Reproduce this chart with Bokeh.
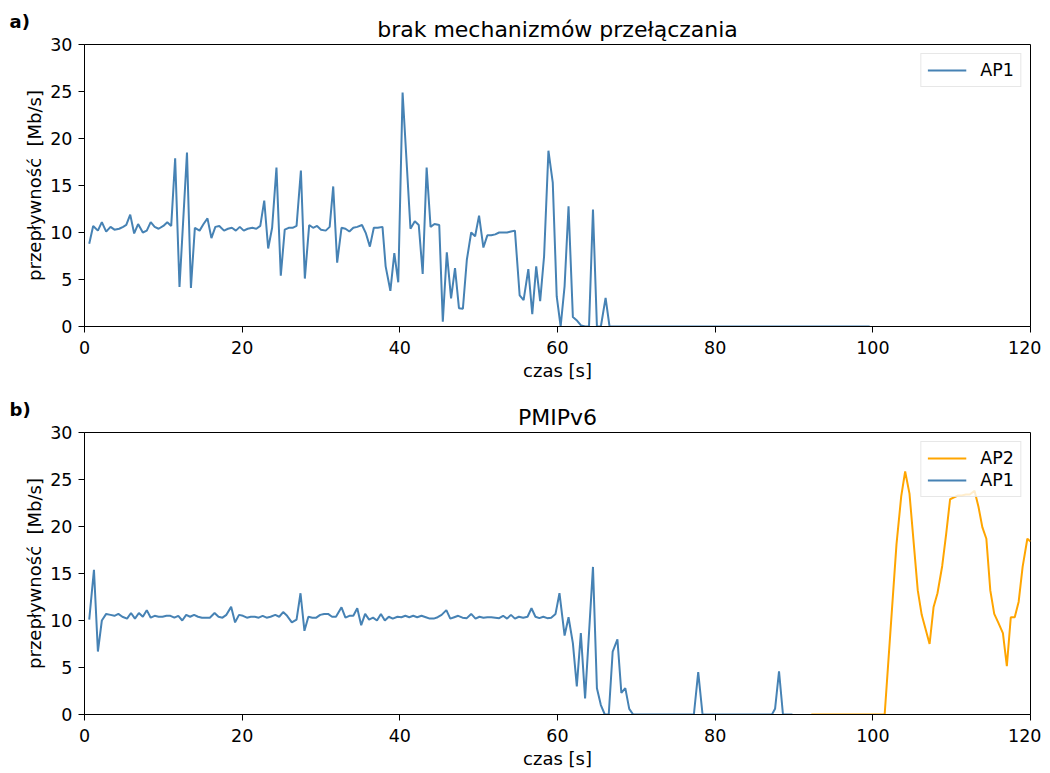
from bokeh.plotting import figure
from bokeh.layouts import column
from bokeh.models import Range1d, Legend, LegendItem, Title
from bokeh.embed import file_html
from bokeh.resources import INLINE

# ---------------- data ----------------
title_a = "brak mechanizmów przełączania"
title_b = "PMIPv6"
x_label = "czas [s]"
y_label = "przepływność\u00a0 [Mb/s]"
x_ticks = [0, 20, 40, 60, 80, 100, 120]
y_ticks = [0, 5, 10, 15, 20, 25, 30]

a_ap1_t = [0.6, 1.1, 1.7, 2.2, 2.75, 3.3, 3.8, 4.4, 4.9, 5.3, 5.8, 6.3, 6.8, 7.4, 7.9, 8.4, 8.9, 9.4,
           10.0, 10.5, 11.0, 11.5, 12.05, 13.0, 13.5, 14.0, 14.6, 15.1, 15.6, 16.1, 16.6, 17.1, 17.7,
           18.2, 18.7, 19.2, 19.7, 20.2, 20.7, 21.3, 21.8, 22.3, 22.8, 23.3, 23.8, 24.35, 24.9, 25.4,
           25.9, 26.4, 26.9, 27.45, 27.95, 28.5, 29.0, 29.5, 30.0, 30.6, 31.1, 31.55, 32.05, 32.6,
           33.1, 33.6, 34.1, 34.6, 35.2, 35.7, 36.2, 36.7, 37.2, 37.8, 38.2, 38.8, 39.3, 39.8, 40.35,
           41.35, 41.9, 42.4, 42.9, 43.4, 43.9, 44.4, 45.0, 45.45, 45.96, 46.5, 47.0, 47.5, 48.0,
           48.5, 49.05, 49.55, 50.05, 50.6, 51.1, 51.6, 52.1, 52.6, 53.1, 53.6, 54.1, 54.6, 55.2,
           55.7, 56.3, 56.8, 57.3, 57.8, 58.3, 58.85, 59.4, 59.9, 60.4, 60.9, 61.4, 61.95, 62.5,
           63.0, 63.5, 64.0, 64.5, 65.0, 65.5, 66.1, 66.6, 99.6]
a_ap1_v = [8.8, 10.7, 10.2, 11.1, 10.1, 10.6, 10.3, 10.4, 10.6, 10.8, 11.9, 9.9, 10.9, 10.0, 10.2, 11.1, 10.6, 10.4,
           10.7, 11.1, 10.7, 17.9, 4.2, 18.5, 4.1, 10.5, 10.2, 10.9, 11.5, 9.4, 10.6, 10.7, 10.2,
           10.4, 10.5, 10.2, 10.6, 10.2, 10.4, 10.5, 10.4, 10.7, 13.4, 8.3, 10.5, 16.9, 5.4, 10.3,
           10.5, 10.5, 10.7, 16.6, 5.1, 10.8, 10.5, 10.7, 10.3, 10.2, 10.6, 14.9, 6.8, 10.5,
           10.4, 10.1, 10.5, 10.6, 10.8, 9.9, 8.5, 10.5, 10.5, 10.6, 6.4, 3.8, 7.8, 4.7, 24.9,
           10.4, 11.2, 10.8, 5.6, 16.9, 10.6, 10.9, 10.8, 0.5, 7.9, 3.0, 6.2, 1.95, 1.9,
           7.1, 10.0, 9.6, 11.8, 8.4, 9.7, 9.7, 9.8, 10.0, 10.0, 10.0, 10.1, 10.2, 3.3,
           2.8, 6.1, 1.3, 6.4, 2.7, 7.5, 18.7, 15.3, 3.2, 0.0, 4.3, 12.8, 1.0, 0.6,
           0.1, 0.0, 0.0, 12.45, 0.0, 0.0, 3.05, 0.0, 0.0]

b_ap1_t = [0.6, 1.2, 1.7, 2.2, 2.75, 3.3, 3.8, 4.3, 4.8, 5.4, 5.9, 6.4, 6.9, 7.4, 7.9, 8.4, 8.9, 9.4, 9.9,
           10.4, 10.9, 11.4, 11.9, 12.4, 12.9, 13.4, 13.9, 14.4, 14.9, 15.4, 15.9, 16.5, 17.0, 17.5,
           18.0, 18.6, 19.1, 19.6, 20.1, 20.6, 21.1, 21.6, 22.1, 22.6, 23.1, 23.6, 24.2, 24.7, 25.2,
           25.7, 26.3, 26.9, 27.4, 27.9, 28.4, 28.9, 29.4, 29.9, 30.4, 30.9, 31.4, 31.9, 32.6, 33.1,
           33.6, 34.1, 34.6, 35.1, 35.6, 36.1, 36.6, 37.1, 37.6, 38.1, 38.6, 39.1, 39.7, 40.2, 40.7,
           41.2, 41.7, 42.2, 42.75, 43.3, 43.8, 44.3, 44.8, 45.3, 45.9, 46.4, 46.9, 47.4, 47.95,
           48.5, 49.05, 49.6, 50.1, 50.6, 51.1, 51.6, 52.1, 52.6, 53.1, 53.6, 54.1, 54.6, 55.1,
           55.65, 56.2, 56.7, 57.2, 57.7, 58.2, 58.7, 59.2, 59.75, 60.25, 60.9, 61.4, 61.95, 62.45,
           62.96, 63.5, 64.5, 65.0, 65.5, 66.0, 66.5, 67.0, 67.6, 68.1, 68.6, 69.1, 69.6, 77.3,
           77.85, 78.4, 87.2, 87.6, 88.1, 88.6, 89.8]
b_ap1_v = [10.1, 15.4, 6.7, 10.0, 10.7, 10.6, 10.5, 10.7, 10.4, 10.2, 10.8, 10.2, 10.8, 10.4, 11.1, 10.3, 10.5, 10.4, 10.4,
           10.5, 10.5, 10.3, 10.5, 10.0, 10.6, 10.4, 10.6, 10.4, 10.3, 10.3, 10.3, 10.8, 10.4, 10.3,
           10.6, 11.45, 9.8, 10.6, 10.5, 10.3, 10.4, 10.4, 10.3, 10.5, 10.3, 10.4, 10.6, 10.4, 10.9,
           10.5, 9.8, 10.1, 12.9, 8.9, 10.4, 10.3, 10.3, 10.6, 10.7, 10.7, 10.4, 10.4, 11.4, 10.3,
           10.5, 10.5, 11.3, 9.5, 10.7, 10.1, 10.3, 10.0, 10.7, 10.0, 10.4, 10.2, 10.4, 10.35, 10.5,
           10.35, 10.5, 10.35, 10.5, 10.35, 10.2, 10.2, 10.35, 10.6, 11.1, 10.2, 10.35, 10.5, 10.3,
           10.25, 10.7, 10.2, 10.4, 10.3, 10.35, 10.35, 10.3, 10.25, 10.5, 10.2, 10.6, 10.2, 10.4,
           10.3, 10.4, 11.3, 10.4, 10.25, 10.4, 10.25, 10.3, 10.7, 12.9, 8.4, 10.35, 7.6, 3.0,
           8.65, 1.7, 15.7, 2.8, 1.0, 0.0, 0.0, 6.7, 8.0, 2.3, 2.8, 0.6, 0.0, 0.0,
           4.5, 0.0, 0.0, 0.6, 4.6, 0.0, 0.0]

b_ap2_t = [92.2, 101.5, 103.0, 103.6, 104.1, 104.65, 105.2, 105.7, 106.2, 107.2, 107.7, 108.2, 108.8,
           109.3, 109.8, 110.3, 110.8, 111.3, 111.8, 112.3, 112.9, 113.4, 113.9, 114.4, 114.9, 115.4,
           115.9, 116.5, 117.0, 117.5, 118.0, 118.5, 119.0, 119.6, 120.0]
b_ap2_v = [0.0, 0.0, 18.1, 23.2, 25.85, 23.5, 18.1, 13.2, 10.6, 7.5, 11.4, 12.9, 15.8,
           19.2, 22.9, 23.1, 23.3, 23.3, 23.4, 23.4, 23.8, 22.1, 19.9, 18.7, 13.2, 10.7,
           9.8, 8.65, 5.15, 10.35, 10.35, 12.0, 15.7, 18.7, 18.4]

BLUE = "#4682b4"
ORANGE = "#ffa500"
FONT = "DejaVu Sans"


def make_fig(title, tag, border_top, border_bottom):
    p = figure(frame_width=946, frame_height=282, output_backend="svg", toolbar_location=None,
               x_range=Range1d(0, 120), y_range=Range1d(0, 30),
               min_border_left=84, min_border_right=11,
               min_border_top=border_top, min_border_bottom=border_bottom)
    # panel letter (outermost title slot)
    p.title.text = tag
    p.title.align = "left"
    p.title.offset = -75
    p.title.standoff = -40
    p.title.text_font = FONT
    p.title.text_font_size = "18px"
    p.title.text_font_style = "bold"
    p.title.text_color = "black"
    # main title (closest to the plot frame)
    main_title = Title(text=title, align="center", standoff=6,
                       text_font=FONT, text_font_size="22px", text_font_style="normal",
                       text_color="black")
    p.add_layout(main_title, "above")
    p.grid.visible = False
    p.outline_line_color = "black"
    p.outline_line_alpha = 1
    p.outline_line_width = 1
    p.background_fill_color = "white"
    p.border_fill_color = "white"
    for ax in (p.xaxis[0], p.yaxis[0]):
        ax.axis_line_color = "black"
        ax.major_tick_line_color = "black"
        ax.major_tick_out = 6
        ax.major_tick_in = 0
        ax.minor_tick_line_color = None
        ax.major_label_text_font = FONT
        ax.major_label_text_font_size = "17.5px"
        ax.major_label_text_color = "black"
        ax.axis_label_text_font = FONT
        ax.axis_label_text_font_size = "18px"
        ax.axis_label_text_font_style = "normal"
        ax.axis_label_text_color = "black"
    p.xaxis.major_label_standoff = 8
    p.xaxis.axis_label_standoff = 3
    p.yaxis.major_label_standoff = 6
    p.yaxis.axis_label_standoff = 2
    p.xaxis.ticker = x_ticks
    p.yaxis.ticker = y_ticks
    p.xaxis.axis_label = x_label
    p.yaxis.axis_label = y_label
    return p


pa = make_fig(title_a, "a)", 44, 62)
ra = pa.line(a_ap1_t, a_ap1_v, line_color=BLUE, line_width=2)
lega = Legend(items=[LegendItem(label="AP1", renderers=[ra])])

pb = make_fig(title_b, "b)", 44, 56)
rb1 = pb.line(b_ap1_t, b_ap1_v, line_color=BLUE, line_width=2)
rb2 = pb.line(b_ap2_t, b_ap2_v, line_color=ORANGE, line_width=2)
legb = Legend(items=[LegendItem(label="AP2", renderers=[rb2]), LegendItem(label="AP1", renderers=[rb1])])

for p, leg in ((pa, lega), (pb, legb)):
    leg.location = "top_right"
    leg.margin = 9
    leg.padding = 6
    leg.spacing = 2
    leg.label_text_font = FONT
    leg.label_text_font_size = "17.5px"
    leg.label_text_color = "black"
    leg.glyph_width = 39
    leg.label_standoff = 14
    leg.border_line_color = "#d0d0d0"
    leg.border_line_width = 1
    leg.background_fill_color = "white"
    leg.background_fill_alpha = 0.8
    p.add_layout(leg)

layout = column(pa, pb, spacing=0)
open("out.html", "w").write(file_html(layout, INLINE))
